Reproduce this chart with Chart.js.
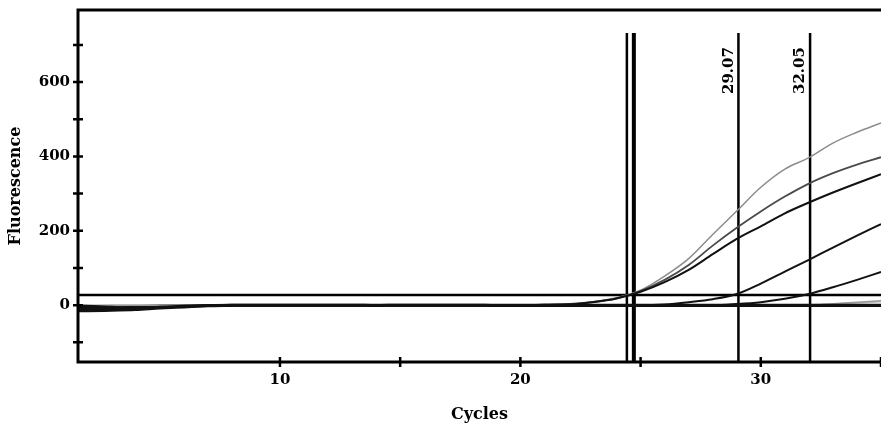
<!DOCTYPE html>
<html>
<head>
<meta charset="utf-8">
<script src="https://cdn.jsdelivr.net/npm/chart.js@4"></script>
<style>
  html, body { margin: 0; padding: 0; background: #fff; }
  #wrap { width: 881px; height: 428px; }
</style>
</head>
<body>
<div id="wrap"><canvas id="ampChart"></canvas></div>
<script>
// cycle numbers and fluorescence
const cycles = [1,2,3,4,5,6,7,8,9,10,11,12,13,14,15,16,17,18,19,20,21,22,23,24,25,26,27,28,29,30,31,32,33,34,35];

const curveA = [-8,-6,-4,-2,0,0,0,0,0,0,0,0,0,0,0,0,0,0,0,0,1,3,9,20,40,78,125,190,253,317,366,397,436,465,490];
const curveB = [-10,-10,-6,-3,0,0,0,0,0,0,0,0,0,0,0,0,0,0,0,0,1,3,8,18,38,68,108,160,208,252,292,327,355,378,398];
const curveC = [-14,-14,-12,-8,-3,0,0,0,0,0,0,0,0,0,0,0,0,0,0,0,1,2,8,18,36,62,95,137,178,212,247,276,303,328,352];
const curveD = [-12,-12,-10,-6,-2,0,0,0,0,0,0,0,0,0,0,0,0,0,0,0,0,0,0,0,0,2,8,16,30,58,90,122,155,187,218];
const curveE = [-6,-8,-8,-4,-2,-1,0,0,0,0,0,0,0,0,0,0,0,0,0,0,0,0,0,0,0,0,0,0,3,8,17,30,48,68,89];
const curveF = [-4,-2,0,0,0,0,0,0,0,0,0,0,0,0,0,0,0,0,0,0,0,0,0,0,0,0,0,0,0,0,0,0,4,8,12];
const curveG = [0,0,0,0,0,0,0,0,0,0,0,0,0,0,0,0,0,0,0,0,0,0,0,0,0,0,0,0,0,0,0,1,3,6,9];
const flatN1 = [-15,-15,-14,-12,-8,-5,-2,0,0,0,0,0,0,-1,0,0,0,0,-1,-1,-1,-1,-1,-1,-1,-1,-1,-1,-1,-1,-1,-1,-1,-1,-1];
const flatN2 = [-2,-3,-6,-9,-6,-3,-1,0,0,0,0,0,0,0,0,0,0,0,0,0,0,0,0,0,0,0,0,0,0,0,0,0,0,0,0];

const threshold = 27;
const ctValues = [24.43, 24.72, 29.07, 32.05];
const ctWidths = [2.5, 4, 2.5, 2.5];
const ctLabels = ['', '', '29.07', '32.05'];
const ctTop = 732;

const xMin = 1.6, xMax = 35;
const yMin = -153, yMax = 794;
const xTicks = [10, 15, 20, 25, 30, 35];
const yTicks = [-100, 0, 100, 200, 300, 400, 500, 600, 700];

function toPoints(vals) {
    return vals.map((v, i) => ({ x: cycles[i], y: v }));
}

function curve(vals, color, width) {
    return {
        data: toPoints(vals),
        borderColor: color,
        borderWidth: width,
        pointRadius: 0,
        cubicInterpolationMode: 'monotone',
        fill: false
    };
}

const datasets = [
    curve(flatN1, '#111', 3),
    curve(flatN2, '#111', 3),
    curve(curveF, '#999', 1.5),
    curve(curveG, '#bbb', 1.5),
    curve(curveE, '#111', 2),
    curve(curveD, '#111', 2),
    curve(curveC, '#111', 2),
    curve(curveB, '#4a4a4a', 1.8),
    curve(curveA, '#8c8c8c', 1.5)
];

// threshold line
datasets.push({
    data: [{ x: xMin, y: threshold }, { x: xMax, y: threshold }],
    borderColor: '#000', borderWidth: 2.5, pointRadius: 0
});

// Ct marker lines
ctValues.forEach((c, i) => {
    datasets.push({
        data: [{ x: c, y: ctTop }, { x: c, y: yMin }],
        borderColor: '#000', borderWidth: ctWidths[i], pointRadius: 0
    });
});

// frame, crossing tick marks and Ct labels
const framePlugin = {
    id: 'frame',
    afterDatasetsDraw(chart) {
        const { ctx, chartArea: a, scales: { x, y } } = chart;
        ctx.save();
        ctx.strokeStyle = '#000';
        ctx.lineWidth = 3;
        ctx.beginPath();
        ctx.moveTo(a.right, a.top);
        ctx.lineTo(a.left, a.top);
        ctx.lineTo(a.left, a.bottom);
        ctx.lineTo(a.right, a.bottom);
        ctx.stroke();

        ctx.lineWidth = 2.5;
        ctx.beginPath();
        yTicks.forEach(v => {
            const py = y.getPixelForValue(v);
            ctx.moveTo(a.left - 5, py);
            ctx.lineTo(a.left + 5, py);
        });
        xTicks.forEach(v => {
            const px = x.getPixelForValue(v);
            ctx.moveTo(px, a.bottom - 5);
            ctx.lineTo(px, a.bottom + 5);
        });
        ctx.stroke();

        ctx.fillStyle = '#000';
        ctx.font = 'bold 15px "DejaVu Serif"';
        ctx.textAlign = 'right';
        ctx.textBaseline = 'bottom';
        ctValues.forEach((c, i) => {
            if (!ctLabels[i]) return;
            const px = x.getPixelForValue(c);
            const py = y.getPixelForValue(ctTop);
            ctx.save();
            ctx.translate(px - 2, py + 14);
            ctx.rotate(-Math.PI / 2);
            ctx.fillText(ctLabels[i], 0, 0);
            ctx.restore();
        });
        ctx.restore();
    }
};

function noPad(s) {
    s.paddingTop = 0;
    s.paddingBottom = 0;
    s.paddingLeft = 0;
    s.paddingRight = 0;
}

const tickFont = { family: 'DejaVu Serif', size: 15, weight: 'bold' };
const titleFont = { family: 'DejaVu Serif', size: 16, weight: 'bold' };

new Chart(document.getElementById('ampChart'), {
    type: 'line',
    data: { datasets: datasets },
    options: {
        responsive: true,
        maintainAspectRatio: false,
        animation: false,
        layout: { padding: { top: 10, right: 0, left: 0, bottom: 0 } },
        plugins: { legend: { display: false }, tooltip: { enabled: false } },
        scales: {
            x: {
                type: 'linear',
                min: xMin,
                max: xMax,
                afterBuildTicks: s => { s.ticks = xTicks.map(v => ({ value: v })); },
                afterFit: s => { s.height = 66; noPad(s); },
                grid: { display: false, drawTicks: false },
                border: { display: false },
                ticks: {
                    color: '#000',
                    font: tickFont,
                    padding: 9,
                    maxRotation: 0,
                    autoSkip: false,
                    callback: v => (v % 10 === 0 ? String(v) : '')
                },
                title: { display: true, text: 'Cycles', color: '#000', font: titleFont, padding: { top: 0, bottom: 4 } }
            },
            y: {
                type: 'linear',
                min: yMin,
                max: yMax,
                afterBuildTicks: s => { s.ticks = yTicks.map(v => ({ value: v })); },
                afterFit: s => { s.width = 78; noPad(s); },
                grid: { display: false, drawTicks: false },
                border: { display: false },
                ticks: {
                    color: '#000',
                    font: tickFont,
                    padding: 8,
                    autoSkip: false,
                    callback: v => (v % 200 === 0 ? String(v) : '')
                },
                title: { display: true, text: 'Fluorescence', color: '#000', font: titleFont, padding: { top: 6, bottom: 0 } }
            }
        }
    },
    plugins: [framePlugin]
});
</script>
</body>
</html>
